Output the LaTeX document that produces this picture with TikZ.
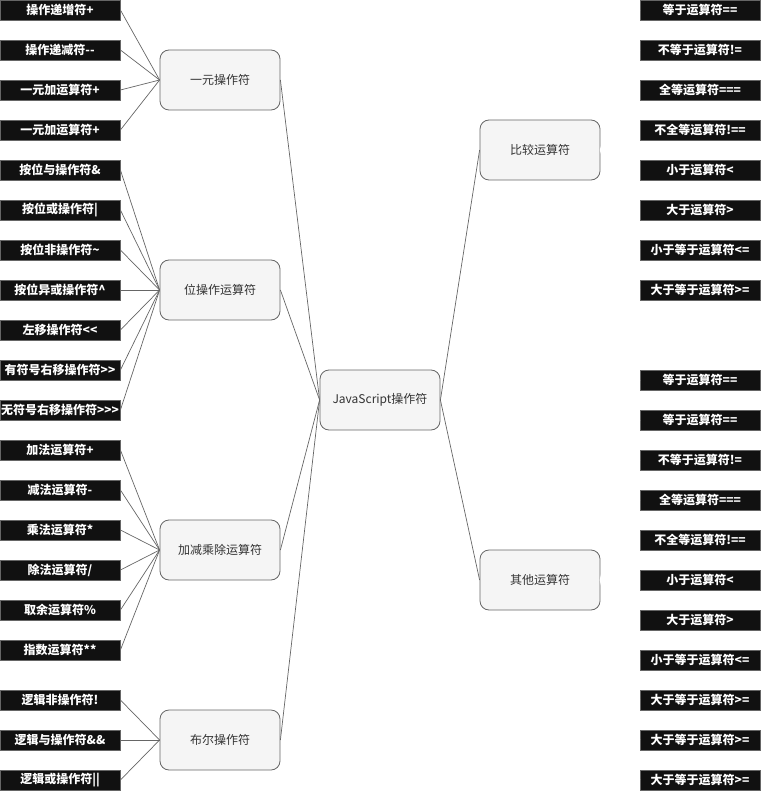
\documentclass[tikz,border=0pt]{standalone}
\usepackage{fontspec}
\setmainfont{Noto Sans CJK SC}
\definecolor{cline}{HTML}{666666}
\definecolor{cleaf}{HTML}{111111}
\definecolor{cgroup}{HTML}{F5F5F5}
\definecolor{ctext}{HTML}{333333}
\tikzset{
  leaf/.style={draw=cline, fill=cleaf, text=white, font=\bfseries\fontsize{12}{14}\selectfont,
    minimum width=120pt, minimum height=20pt, inner sep=0pt, line width=0.8pt},
  group/.style={draw=cline, fill=cgroup, rounded corners=9pt, minimum width=120pt,
    minimum height=60pt, inner sep=0pt, font=\fontsize{12}{14}\selectfont, text=ctext, line width=0.8pt},
  link/.style={draw=cline, line width=0.7pt},
  hidden/.style={draw=white, line width=1pt}
}
\begin{document}
\begin{tikzpicture}[x=1pt,y=-1pt]
\useasboundingbox (0,0) rectangle (761,791);
% group nodes
\node[group] (J) at (380,400) {JavaScript操作符};
\node[group] (U) at (220,80) {一元操作符};
\node[group] (B) at (220,290) {位操作运算符};
\node[group] (A) at (220,550) {加减乘除运算符};
\node[group] (L) at (220,740) {布尔操作符};
\node[group] (C) at (540,150) {比较运算符};
\node[group] (O) at (540,580) {其他运算符};
% left leaves
\foreach \t [count=\i] in {操作递增符+, 操作递减符-{}-, 一元加运算符+, 一元加运算符+}
  \node[leaf] (u\i) at (60,{10+40*(\i-1)}) {\t};
\foreach \t [count=\i] in {按位与操作符\&, 按位或操作符|, 按位非操作符\textasciitilde, 按位异或操作符\textasciicircum, 左移操作符<{}<, 有符号右移操作符>{}>, 无符号右移操作符>{}>{}>}
  \node[leaf] (b\i) at (60,{170+40*(\i-1)}) {\t};
\foreach \t [count=\i] in {加法运算符+, 减法运算符-, 乘法运算符*, 除法运算符/, 取余运算符\%, 指数运算符**}
  \node[leaf] (a\i) at (60,{450+40*(\i-1)}) {\t};
\foreach \t [count=\i] in {逻辑非操作符!, 逻辑与操作符\&\&, 逻辑或操作符||}
  \node[leaf] (l\i) at (60,{700+40*(\i-1)}) {\t};
% right leaves
\foreach \t [count=\i] in {等于运算符==, 不等于运算符!=, 全等运算符===, 不全等运算符!==, 小于运算符<, 大于运算符>, 小于等于运算符<=, 大于等于运算符>=}
  \node[leaf] (c\i) at (700,{10+40*(\i-1)}) {\t};
\foreach \t [count=\i] in {等于运算符==, 等于运算符==, 不等于运算符!=, 全等运算符===, 不全等运算符!==, 小于运算符<, 大于运算符>, 小于等于运算符<=, 大于等于运算符>=, 大于等于运算符>=, 大于等于运算符>=}
  \node[leaf] (o\i) at (700,{380+40*(\i-1)}) {\t};
% connectors
\foreach \i in {1,...,4} \draw[link] (u\i.east) -- (U.west);
\foreach \i in {1,...,7} \draw[link] (b\i.east) -- (B.west);
\foreach \i in {1,...,6} \draw[link] (a\i.east) -- (A.west);
\foreach \i in {1,...,3} \draw[link] (l\i.east) -- (L.west);
\foreach \g in {U,B,A,L} \draw[link] (\g.east) -- (J.west);
\draw[link] (J.east) -- (C.west);
\draw[link] (J.east) -- (O.west);
\foreach \i in {1,...,8} \draw[hidden] (C.east) -- (c\i.west);
\foreach \i in {1,...,11} \draw[hidden] (O.east) -- (o\i.west);
\end{tikzpicture}
\end{document}
